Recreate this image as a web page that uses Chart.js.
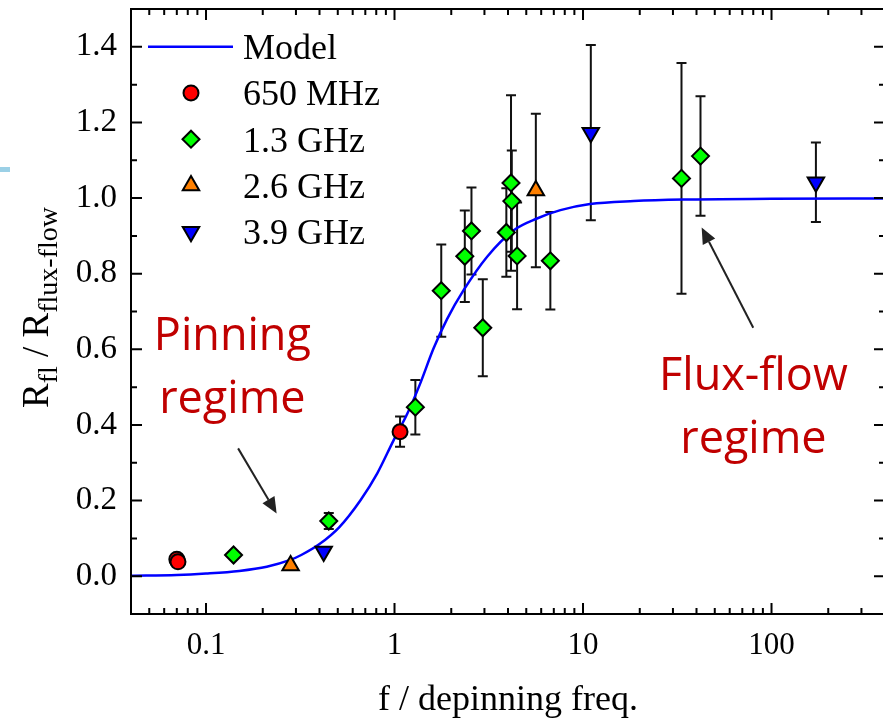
<!DOCTYPE html>
<html>
<head>
<meta charset="utf-8">
<script src="https://cdn.jsdelivr.net/npm/chart.js@4.4.0/dist/chart.umd.min.js"></script>
<style>
html,body{margin:0;padding:0;background:#fff;}
#wrap{position:relative;width:883px;height:720px;overflow:hidden;}
#c{display:block;}
#mark{position:absolute;left:0;top:167px;width:10px;height:5px;background:#9bd0e6;}
</style>
</head>
<body>
<div id="wrap"><canvas id="c" width="885" height="720"></canvas><div id="mark"></div></div>
<script>
// model curve
const modelF=[0.04,0.07,0.10,0.15,0.21,0.28,0.32,0.40,0.51,0.66,0.81,0.99,1.17,1.37,1.61,1.90,2.33,3.10,4.29,5.70,7.59,10.9,18.6,34,100,400];
const modelR=[0.001,0.003,0.007,0.014,0.025,0.043,0.056,0.085,0.130,0.201,0.272,0.360,0.430,0.510,0.602,0.680,0.757,0.845,0.915,0.946,0.968,0.984,0.992,0.996,0.998,0.999];

// measurements: f/f0, R ratio, error
const f650=[0.070,0.071,1.07];
const r650=[0.045,0.038,0.382];
const e650=[0,0,0.04];

const f13=[0.140,0.448,1.29,1.77,2.36,2.56,2.94,3.92,4.15,4.19,4.47,6.71,33.3,42.0];
const r13=[0.056,0.146,0.447,0.755,0.846,0.913,0.657,0.909,1.040,0.992,0.847,0.834,1.052,1.111];
const e13=[0,0.021,0.072,0.122,0.121,0.115,0.128,0.117,0.232,0.134,0.141,0.129,0.305,0.158];

const f26=[0.281,5.62];
const r26=[0.028,1.020];
const e26=[0,0.203];

const f39=[0.421,11.0,172];
const r39=[0.065,1.173,1.042];
const e39=[0,0.232,0.105];

const xMajor=[0.1,1,10,100];
const yMajor=[0,0.2,0.4,0.6,0.8,1.0,1.2,1.4];
const yMinor=[0.1,0.3,0.5,0.7,0.9,1.1,1.3];

const pts=(fs,rs)=>fs.map((f,i)=>({x:f,y:rs[i]}));
const serif='"Liberation Serif","Times New Roman",serif';

// error bars behind the markers
const errBars={id:'errBars',beforeDatasetsDraw(ch){
  const {ctx,chartArea:a,scales:{x,y}}=ch;
  ctx.save();
  ctx.beginPath();ctx.rect(a.left,a.top,a.right-a.left,a.bottom-a.top);ctx.clip();
  ctx.strokeStyle='#111';ctx.lineWidth=2;
  ch.data.datasets.forEach(ds=>{
    if(!ds.errs)return;
    ds.data.forEach((p,i)=>{
      const e=ds.errs[i];if(!e)return;
      const px=x.getPixelForValue(p.x),y1=y.getPixelForValue(p.y+e),y2=y.getPixelForValue(p.y-e);
      ctx.beginPath();
      ctx.moveTo(px,y1);ctx.lineTo(px,y2);
      ctx.moveTo(px-5,y1);ctx.lineTo(px+5,y1);
      ctx.moveTo(px-5,y2);ctx.lineTo(px+5,y2);
      ctx.stroke();
    });
  });
  ctx.restore();
}};

// box frame with inward ticks
const frame={id:'frame',afterDraw(ch){
  const {ctx,chartArea:a,scales:{x,y}}=ch;
  ctx.save();
  ctx.strokeStyle='#000';ctx.lineWidth=2;
  ctx.strokeRect(a.left,a.top,a.right-a.left,a.bottom-a.top);
  ctx.beginPath();
  const xt=(v,len)=>{const p=x.getPixelForValue(v);ctx.moveTo(p,a.bottom);ctx.lineTo(p,a.bottom-len);ctx.moveTo(p,a.top);ctx.lineTo(p,a.top+len);};
  const yt=(v,len)=>{const p=y.getPixelForValue(v);ctx.moveTo(a.left,p);ctx.lineTo(a.left+len,p);ctx.moveTo(a.right,p);ctx.lineTo(a.right-len,p);};
  xMajor.forEach(v=>xt(v,11));
  [0.01,0.1,1,10,100].forEach(d=>{for(let k=2;k<=9;k++){const v=k*d;if(v>x.min&&v<x.max)xt(v,6);}});
  yMajor.forEach(v=>yt(v,11));
  yMinor.forEach(v=>yt(v,6));
  ctx.stroke();
  ctx.restore();
}};

// legend inside the plot
const legendBox={id:'legendBox',afterDraw(ch){
  const {ctx,chartArea:a}=ch;
  ctx.save();
  ctx.font='36px '+serif;ctx.fillStyle='#000';ctx.textBaseline='alphabetic';ctx.textAlign='left';
  ch.data.datasets.forEach((ds,i)=>{
    const cy=a.top+37.7+i*46.25;
    if(ds.type==='line'){
      ctx.strokeStyle=ds.borderColor;ctx.lineWidth=2.5;
      ctx.beginPath();ctx.moveTo(a.left+17,cy);ctx.lineTo(a.left+102,cy);ctx.stroke();
    }else{
      ctx.fillStyle=ds.backgroundColor;ctx.strokeStyle=ds.borderColor;ctx.lineWidth=ds.borderWidth;
      Chart.helpers.drawPoint(ctx,{pointStyle:ds.pointStyle,rotation:ds.rotation||0,radius:ds.pointRadius,borderWidth:ds.borderWidth},a.left+60,cy);
    }
    ctx.fillStyle='#000';
    ctx.fillText(ds.label,a.left+112,cy+12.5);
  });
  ctx.restore();
}};

// annotations (positions in data units)
const notes=[
  {lines:['Pinning','regime'],f:0.138,r:[0.598,0.431]},
  {lines:['Flux-flow','regime'],f:80.2,r:[0.492,0.325]}
];
const arrows=[{f0:0.148,r0:0.338,f1:0.237,r1:0.166},{f0:80.0,r0:0.657,f1:42.6,r1:0.922}];
const annot={id:'annot',afterDraw(ch){
  const {ctx,scales:{x,y}}=ch;
  ctx.save();
  ctx.font='45px "Open Sans","Noto Sans",sans-serif';ctx.fillStyle='#c00000';ctx.textAlign='center';ctx.textBaseline='alphabetic';
  notes.forEach(n=>n.lines.forEach((t,i)=>ctx.fillText(t,x.getPixelForValue(n.f),y.getPixelForValue(n.r[i]))));
  ctx.strokeStyle='#222';ctx.fillStyle='#222';ctx.lineWidth=2;
  arrows.forEach(ar=>{
    const x0=x.getPixelForValue(ar.f0),y0=y.getPixelForValue(ar.r0),x1=x.getPixelForValue(ar.f1),y1=y.getPixelForValue(ar.r1);
    const ang=Math.atan2(y1-y0,x1-x0),hl=16,hw=7;
    const bx=x1-hl*Math.cos(ang),by=y1-hl*Math.sin(ang);
    ctx.beginPath();ctx.moveTo(x0,y0);ctx.lineTo(bx,by);ctx.stroke();
    ctx.beginPath();ctx.moveTo(x1,y1);
    ctx.lineTo(bx+hw*Math.sin(ang),by-hw*Math.cos(ang));
    ctx.lineTo(bx-hw*Math.sin(ang),by+hw*Math.cos(ang));
    ctx.closePath();ctx.fill();
  });
  // y axis title with subscripts
  const parts=[['R',37,0],['fl',28,9],[' / R',37,0],['flux-flow',28,9]];
  ctx.fillStyle='#000';ctx.textAlign='left';
  let tot=0;parts.forEach(p=>{ctx.font=p[1]+'px '+serif;tot+=ctx.measureText(p[0]).width;});
  ctx.translate(48,(ch.chartArea.top+ch.chartArea.bottom)/2-4);ctx.rotate(-Math.PI/2);
  let cx=-tot/2;
  parts.forEach(p=>{ctx.font=p[1]+'px '+serif;ctx.fillText(p[0],cx,p[2]);cx+=ctx.measureText(p[0]).width;});
  ctx.restore();
}};

new Chart(document.getElementById('c'),{
  data:{datasets:[
    {type:'line',label:'Model',data:pts(modelF,modelR),borderColor:'#0000ff',borderWidth:2.5,pointRadius:0,cubicInterpolationMode:'monotone',order:10},
    {type:'scatter',label:'650 MHz',data:pts(f650,r650),errs:e650,pointStyle:'circle',pointRadius:7.5,backgroundColor:'#ff0000',borderColor:'#000',borderWidth:2,order:1},
    {type:'scatter',label:'1.3 GHz',data:pts(f13,r13),errs:e13,pointStyle:'rectRot',pointRadius:8.5,backgroundColor:'#00ff00',borderColor:'#000',borderWidth:2,order:2},
    {type:'scatter',label:'2.6 GHz',data:pts(f26,r26),errs:e26,pointStyle:'triangle',pointRadius:9.5,backgroundColor:'#ff8000',borderColor:'#000',borderWidth:2,order:3},
    {type:'scatter',label:'3.9 GHz',data:pts(f39,r39),errs:e39,pointStyle:'triangle',rotation:180,pointRadius:9.5,backgroundColor:'#0000ff',borderColor:'#000',borderWidth:2,order:4}
  ]},
  options:{
    responsive:false,animation:false,
    layout:{autoPadding:false,padding:{left:0,top:9,right:0,bottom:0}},
    plugins:{legend:{display:false},tooltip:{enabled:false}},
    scales:{
      x:{type:'logarithmic',min:0.04,max:400,
        grid:{display:false,drawTicks:false},border:{display:false},
        afterBuildTicks:s=>{s.ticks=xMajor.map(v=>({value:v}));},
        afterFit:s=>{s.height=106;s.paddingLeft=0;s.paddingRight=0;},
        ticks:{autoSkip:false,maxRotation:0,padding:13,color:'#000',font:{family:serif,size:31},callback:v=>String(v)},
        title:{display:true,text:'f / depinning freq.',color:'#000',font:{family:serif,size:36,lineHeight:1},padding:{top:0,bottom:1}}
      },
      y:{type:'linear',min:-0.1,max:1.5,
        grid:{display:false,drawTicks:false},border:{display:false},
        afterBuildTicks:s=>{s.ticks=yMajor.map(v=>({value:v}));},
        afterFit:s=>{s.width=131;s.paddingTop=0;s.paddingBottom=0;},
        ticks:{padding:14,color:'#000',font:{family:serif,size:33},callback:v=>v.toFixed(1)}
      }
    }
  },
  plugins:[errBars,frame,legendBox,annot]
});
</script>
</body>
</html>
